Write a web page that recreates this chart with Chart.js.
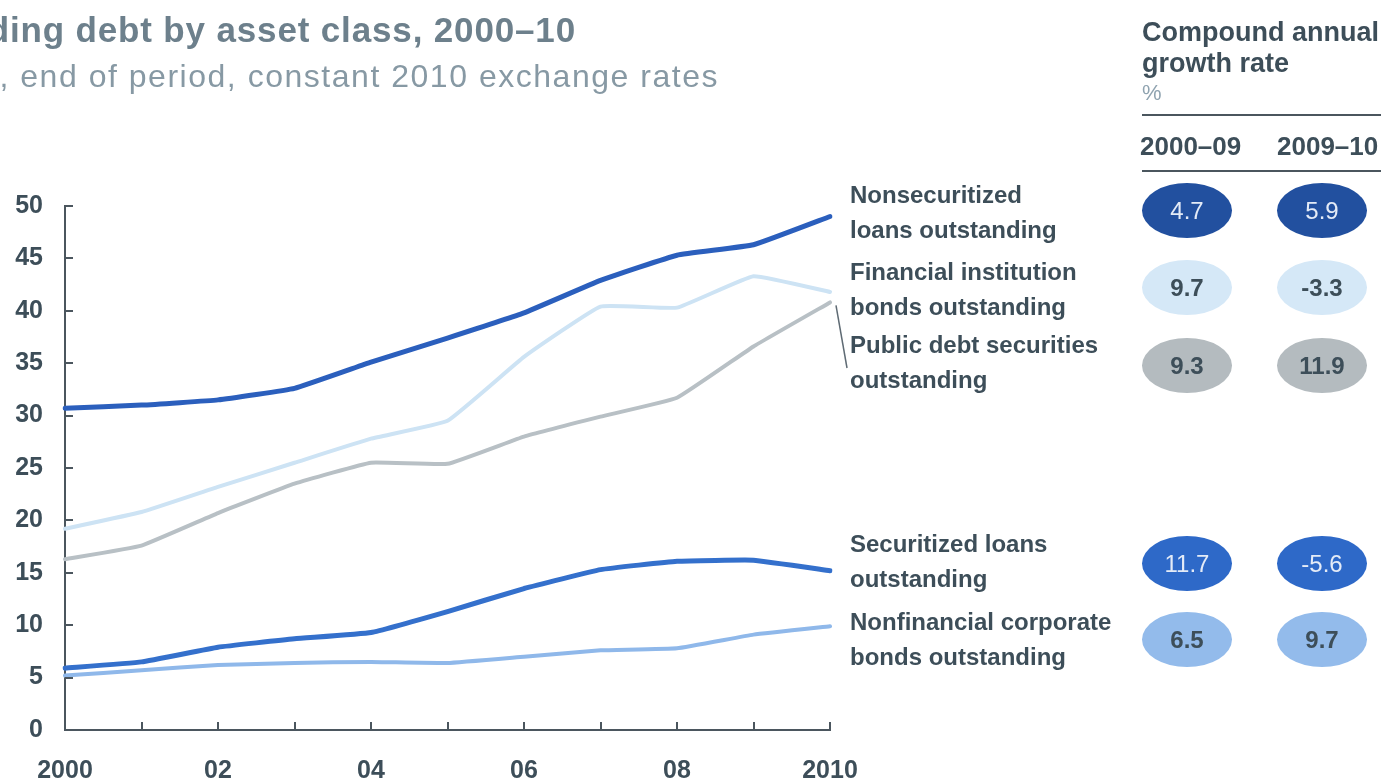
<!DOCTYPE html>
<html>
<head>
<meta charset="utf-8">
<script src="https://cdn.jsdelivr.net/npm/chart.js@4.4.1/dist/chart.umd.min.js"></script>
<style>
  html, body { margin: 0; padding: 0; background: #fff; overflow: hidden; }
  #wrap { position: relative; width: 1381px; height: 781px; overflow: hidden; font-family: 'Liberation Sans', Arial, sans-serif; }
  #chart { position: absolute; left: 0; top: 0; }
  .title { position: absolute; white-space: nowrap; text-align: right; font-weight: bold; color: #6d808c; font-size: 35px; letter-spacing: 0.85px; line-height: 36px; }
  .subtitle { position: absolute; white-space: nowrap; text-align: right; color: #8799a4; font-size: 32px; letter-spacing: 1.52px; line-height: 34px; }
  .head { position: absolute; left: 1142px; color: #3d4e59; font-weight: bold; font-size: 27px; line-height: 31px; white-space: nowrap; }
  .unit { position: absolute; left: 1142px; color: #8fa3b0; font-size: 22px; white-space: nowrap; }
  .rule { position: absolute; left: 1142px; width: 239px; height: 2px; background: #4b565e; }
  .colhead { position: absolute; color: #3d4e59; font-weight: bold; font-size: 26px; line-height: 30px; white-space: nowrap; }
  .label { position: absolute; left: 850px; color: #3d4e59; font-weight: bold; font-size: 24px; line-height: 35px; white-space: nowrap; }
  .oval { position: absolute; width: 90px; height: 55px; border-radius: 50%; display: flex; align-items: center; justify-content: center; font-size: 24px; }
</style>
</head>
<body>
<div id="wrap">
  <canvas id="chart" width="1381" height="781"></canvas>
</div>
<script>
// Outstanding debt, $ trillion
const years = ['2000', '2001', '2002', '2003', '2004', '2005', '2006', '2007', '2008', '2009', '2010'];
const xTickLabels = ['2000', '', '02', '', '04', '', '06', '', '08', '', '2010'];

const nonsecuritizedLoans = [30.7, 31.0, 31.5, 32.6, 35.1, 37.4, 39.8, 42.9, 45.3, 46.3, 49.0];
const financialBonds      = [19.2, 20.8, 23.2, 25.5, 27.8, 29.5, 35.6, 40.4, 40.3, 43.3, 41.8];
const publicDebt          = [16.3, 17.6, 20.7, 23.5, 25.5, 25.4, 28.0, 29.9, 31.7, 36.6, 40.8];
const securitizedLoans    = [5.9, 6.5, 7.9, 8.7, 9.3, 11.3, 13.5, 15.3, 16.1, 16.2, 15.2];
const nonfinancialBonds   = [5.2, 5.7, 6.2, 6.4, 6.5, 6.4, 7.0, 7.6, 7.8, 9.1, 9.9];

// Compound annual growth rate, %
const cagrPeriods = ['2000–09', '2009–10'];
const cagr2000to09 = [4.7, 9.7, 9.3, 11.7, 6.5];
const cagr2009to10 = [5.9, -3.3, 11.9, -5.6, 9.7];

const seriesLabels = [
    ['Nonsecuritized', 'loans outstanding'],
    ['Financial institution', 'bonds outstanding'],
    ['Public debt securities', 'outstanding'],
    ['Securitized loans', 'outstanding'],
    ['Nonfinancial corporate', 'bonds outstanding']
];

const yTicks = { min: 0, max: 50, step: 5 };

// styling
const axisColor = '#4b565e';
const textColor = '#3d4e59';
const lineColors = ['#2b5fbd', '#cde3f4', '#b8c0c5', '#3470cc', '#8fb8ea'];
const lineWidths = [5, 4, 4, 5, 4];
const ovalFill = ['#22509f', '#d5e8f7', '#b4bbbf', '#2e69c8', '#93bbeb'];
const ovalText = ['#e4ebf7', '#3d4e59', '#3d4e59', '#e4ebf7', '#3d4e59'];
const ovalBold = [false, true, true, false, true];
const rowY = [210, 287, 365, 563, 639];
const labelTop = [177, 254, 327, 526, 604];

const wrap = document.getElementById('wrap');

function addDiv(cls, html, css) {
    const d = document.createElement('div');
    d.className = cls;
    d.innerHTML = html;
    Object.assign(d.style, css);
    wrap.appendChild(d);
    return d;
}

// headings (left part runs off the page edge)
addDiv('title', 'Outstanding debt by asset class, 2000–10', { right: (1381 - 576) + 'px', top: '12px' });
addDiv('subtitle', '$ trillion, end of period, constant 2010 exchange rates', { right: (1381 - 719) + 'px', top: '59px' });

// growth table
addDiv('head', 'Compound annual<br>growth rate', { top: '17px' });
addDiv('unit', '%', { top: '80px' });
addDiv('rule', '', { top: '114px' });
addDiv('colhead', cagrPeriods[0], { left: '1140px', top: '131px' });
addDiv('colhead', cagrPeriods[1], { left: '1277px', top: '131px' });
addDiv('rule', '', { top: '170px' });

seriesLabels.forEach((lines, i) => {
    addDiv('label', lines.join('<br>'), { top: labelTop[i] + 'px' });
    [cagr2000to09[i], cagr2009to10[i]].forEach((v, j) => {
        addDiv('oval', v.toFixed(1), {
            left: (j === 0 ? 1142 : 1277) + 'px',
            top: (rowY[i] - 27) + 'px',
            background: ovalFill[i],
            color: ovalText[i],
            fontWeight: ovalBold[i] ? 'bold' : 'normal'
        });
    });
});

// inward tick marks and the pointer from the public debt line to its label
const axisMarks = {
    id: 'axisMarks',
    afterDraw(chart) {
        const { ctx, chartArea, scales: { x, y } } = chart;
        ctx.save();
        ctx.strokeStyle = axisColor;
        ctx.lineWidth = 2;
        ctx.beginPath();
        for (let v = yTicks.min + yTicks.step; v <= yTicks.max; v += yTicks.step) {
            const py = Math.round(y.getPixelForValue(v));
            ctx.moveTo(chartArea.left, py);
            ctx.lineTo(chartArea.left + 8, py);
        }
        for (let i = 1; i < years.length; i++) {
            const px = Math.round(x.getPixelForValue(i));
            ctx.moveTo(px, chartArea.bottom);
            ctx.lineTo(px, chartArea.bottom - 8);
        }
        ctx.stroke();

        const last = publicDebt.length - 1;
        ctx.strokeStyle = '#5f6b74';
        ctx.lineWidth = 1.5;
        ctx.beginPath();
        ctx.moveTo(x.getPixelForValue(last) + 6, y.getPixelForValue(publicDebt[last]) + 3);
        ctx.lineTo(847, 368);
        ctx.stroke();
        ctx.restore();
    }
};

function series(data, i) {
    return {
        data: data,
        borderColor: lineColors[i],
        borderWidth: lineWidths[i],
        pointRadius: 0,
        tension: 0.1,
        borderCapStyle: 'round',
        borderJoinStyle: 'round',
        fill: false
    };
}

const tickFont = { family: "'Liberation Sans', Arial, sans-serif", size: 25, weight: 'bold' };

new Chart(document.getElementById('chart').getContext('2d'), {
    type: 'line',
    data: {
        labels: years,
        datasets: [
            series(financialBonds, 1),
            series(publicDebt, 2),
            series(nonfinancialBonds, 4),
            series(securitizedLoans, 3),
            series(nonsecuritizedLoans, 0)
        ]
    },
    options: {
        responsive: false,
        animation: false,
        devicePixelRatio: 1,
        layout: { padding: { left: 0, right: 551, top: 206, bottom: 0 } },
        plugins: {
            legend: { display: false },
            tooltip: { enabled: false }
        },
        scales: {
            x: {
                offset: false,
                grid: { display: false, drawTicks: false },
                border: { display: true, color: axisColor, width: 2 },
                ticks: {
                    autoSkip: false,
                    maxRotation: 0,
                    padding: 26,
                    color: textColor,
                    font: tickFont,
                    callback: (val, i) => xTickLabels[i]
                },
                afterFit: (scale) => { scale.height = 51; }
            },
            y: {
                min: yTicks.min,
                max: yTicks.max,
                grid: { display: false, drawTicks: false },
                border: { display: true, color: axisColor, width: 2 },
                ticks: {
                    stepSize: yTicks.step,
                    padding: 22,
                    color: textColor,
                    font: tickFont
                },
                afterFit: (scale) => { scale.width = 65; }
            }
        }
    },
    plugins: [axisMarks]
});
</script>
</body>
</html>
